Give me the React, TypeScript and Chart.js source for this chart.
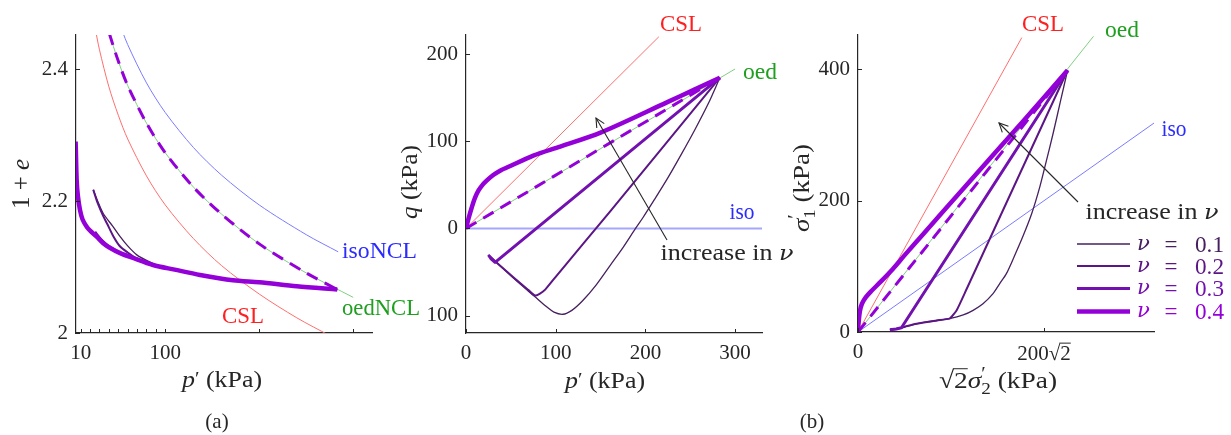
import React, { useEffect, useRef } from 'react';
import { Chart, registerables } from 'chart.js';
Chart.register(...registerables);

const W = 1231;
const H = 435;
const SERIF = '"Liberation Serif", "DejaVu Serif", serif';
const GREEK = '"DejaVu Serif", serif';
const INK = '#262626';
const RED_LINE = '#ff6e6e';
const BLUE_LINE = '#7b7bff';
const GREEN_LINE = '#80cf80';
const RED_TXT = '#ff1f1f';
const BLUE_TXT = '#2b2bff';
const GREEN_TXT = '#1f9f1f';

const NU_LABELS = ['0.1', '0.2', '0.3', '0.4'];
const NU_COLORS = ['#46205f', '#5c1585', '#7210b0', '#9400d8'];
const NU_WIDTHS = [1.3, 2, 3, 4.5];

// ---------- Panel (a): 1+e vs p' ----------
const A_X_TICKS = [10, 20, 30, 40, 50, 60, 70, 80, 90, 100, 200, 300];
const A_X_LABELS = ['10', '', '', '', '', '', '', '', '', '100', '', ''];
const A_Y_TICKS = [2, 2.2, 2.4];
const A_Y_LABELS = ['2', '2.2', '2.4'];

const A_CSL_P = [25, 30, 40, 50, 60, 80, 100, 130, 160, 200, 240, 275];
const A_CSL_V = [2.465, 2.429, 2.373, 2.33, 2.294, 2.238, 2.194, 2.143, 2.102, 2.059, 2.023, 1.996];
const A_ISO_P = [50, 60, 80, 100, 130, 160, 200, 250, 284];
const A_ISO_V = [2.474, 2.437, 2.379, 2.334, 2.281, 2.239, 2.194, 2.149, 2.123];
const A_OED_P = [35, 40, 50, 60, 80, 100, 130, 160, 200, 250, 300];
const A_OED_V = [2.483, 2.456, 2.412, 2.375, 2.318, 2.273, 2.221, 2.18, 2.135, 2.091, 2.054];
const A_LOAD_P = [35, 40, 50, 60, 80, 100, 130, 160, 200, 250, 283];
const A_LOAD_V = [2.483, 2.456, 2.412, 2.375, 2.318, 2.273, 2.221, 2.18, 2.135, 2.091, 2.066];
const A_NU1_P = [283, 240, 200, 172, 137, 115, 100, 94, 80, 70, 60, 52, 44, 34, 28, 23.4];
const A_NU1_V = [2.066, 2.071, 2.077, 2.08, 2.088, 2.094, 2.099, 2.101, 2.11, 2.118, 2.132, 2.146, 2.162, 2.181, 2.2, 2.217];
const A_NU2_P = [283, 240, 200, 172, 137, 110, 87, 70, 60, 52, 45, 38, 34, 28, 23.4];
const A_NU2_V = [2.066, 2.071, 2.077, 2.08, 2.088, 2.096, 2.103, 2.113, 2.122, 2.131, 2.146, 2.166, 2.177, 2.197, 2.217];
const A_NU3_P = [283, 240, 200, 172, 137, 110, 87, 65, 52, 40, 34, 29, 25];
const A_NU3_V = [2.066, 2.071, 2.077, 2.08, 2.088, 2.096, 2.103, 2.114, 2.121, 2.131, 2.138, 2.146, 2.153];
const A_NU4_P = [283, 240, 200, 172, 137, 110, 87, 65, 52, 40, 34, 27, 20, 16.4, 12, 9.3, 7, 5.7, 4.6];
const A_NU4_V = [2.066, 2.071, 2.077, 2.08, 2.088, 2.096, 2.103, 2.114, 2.121, 2.13, 2.136, 2.146, 2.155, 2.161, 2.172, 2.186, 2.208, 2.232, 2.29];

// ---------- Panel (b, left): q vs p' ----------
const B_X_TICKS = [0, 100, 200, 300];
const B_X_LABELS = ['0', '100', '200', '300'];
const B_Y_TICKS = [-100, 0, 100, 200];
const B_Y_LABELS = ['100', '0', '100', '200'];

const B_CSL_P = [0, 215];
const B_CSL_Q = [0, 220];
const B_OED_P = [0, 300];
const B_OED_Q = [0, 183];
const B_ISO_P = [0, 330];
const B_ISO_Q = [0, 0];
const B_LOAD_P = [0, 283];
const B_LOAD_Q = [0, 173];
const B_NU1_P = [283, 270, 255, 240, 225, 210, 197, 189, 175, 161, 145, 130, 118, 108, 98, 90, 77, 55, 34, 25];
const B_NU1_Q = [173, 143, 113, 85, 58, 33, 12, 0, -22, -42, -65, -83, -94, -98.5, -96, -90, -78.5, -59, -39, -30.5];
const B_NU2_P = [283, 161, 100, 88, 82, 77, 70, 55, 34, 25];
const B_NU2_Q = [173, 20, -55.5, -70.5, -75, -77, -71, -58, -39, -30.5];
const B_NU3_P = [283, 32.4, 28, 25];
const B_NU3_Q = [173, -39, -35, -30.5];
const B_NU4_P = [283, 254, 224.5, 150, 105, 75, 50, 38, 30, 23, 18, 13.8, 10, 6.4, 3, 0];
const B_NU4_Q = [173, 159, 145, 110, 94, 83.6, 72, 66.3, 61, 54.8, 49.5, 43.3, 35, 24, 12, 0];

// ---------- Panel (b, right): sigma1' vs sqrt2 sigma2' ----------
const C_X_TICKS = [0, 282.84];
const C_X_LABELS = ['0', ''];
const C_Y_TICKS = [0, 200, 400];
const C_Y_LABELS = ['0', '200', '400'];

const C_CSL_X = [0, 249];
const C_CSL_Y = [0, 448];
const C_OED_X = [0, 358];
const C_OED_Y = [0, 450];
const C_ISO_X = [0, 450];
const C_ISO_Y = [0, 318];
const C_LOAD_X = [0, 318.6];
const C_LOAD_Y = [0, 398.3];
const C_NU1_X = [318.6, 308, 296.5, 286, 276.3, 264, 250.9, 238, 225.6, 215, 205.3, 190, 175, 160, 139, 120, 100, 89, 75, 66, 58, 48.5];
const C_NU1_Y = [398.3, 352, 301.7, 259, 220.5, 180, 146, 116, 88.8, 73, 58.4, 43, 33, 26, 20.3, 17.5, 14.5, 12.5, 9, 6.5, 4.5, 3.6];
const C_NU2_X = [318.6, 165, 150, 143, 139, 120, 100, 89, 75, 66, 58, 48.5];
const C_NU2_Y = [398.3, 65, 33, 24, 20.3, 17.5, 14.5, 12.5, 9, 6.5, 4.5, 3.6];
const C_NU3_X = [318.6, 66, 58, 48.5];
const C_NU3_Y = [398.3, 6.5, 4.5, 3.6];
const C_NU4_X = [318.6, 252, 160, 100, 71, 53, 35, 20, 12, 6, 3, 1, 0];
const C_NU4_Y = [398.3, 322, 218, 150, 117, 96, 77, 62, 53, 43, 32, 15, 0];

const pts = (xs: number[], ys: number[]) => xs.map((x, i) => ({ x, y: ys[i] }));

function ds(xs: number[], ys: number[], color: string, width: number, order: number, tension = 0, extra: any = {}) {
  return {
    data: pts(xs, ys),
    showLine: true,
    borderColor: color,
    backgroundColor: color,
    borderWidth: width,
    pointRadius: 0,
    pointHoverRadius: 0,
    tension,
    order,
    borderJoinStyle: 'round',
    ...extra,
  };
}

const inwardTicks = {
  id: 'inwardTicks',
  afterDraw(chart: any) {
    const { ctx, chartArea: ca } = chart;
    const x = chart.scales.x;
    const y = chart.scales.y;
    ctx.save();
    ctx.strokeStyle = INK;
    ctx.lineWidth = 1;
    x.ticks.forEach((t: any) => {
      const px = Math.round(x.getPixelForValue(t.value)) + 0.5;
      ctx.beginPath();
      ctx.moveTo(px, ca.bottom);
      ctx.lineTo(px, ca.bottom - 4);
      ctx.stroke();
    });
    y.ticks.forEach((t: any) => {
      const py = Math.round(y.getPixelForValue(t.value)) + 0.5;
      ctx.beginPath();
      ctx.moveTo(ca.left, py);
      ctx.lineTo(ca.left + 4, py);
      ctx.stroke();
    });
    ctx.restore();
  },
};

function makeConfig(
  area: { l: number; r: number; t: number; b: number },
  xr: [number, number],
  yr: [number, number],
  xTicks: number[],
  xLabels: string[],
  yTicks: number[],
  yLabels: string[],
  datasets: any[],
): any {
  const tickFont = { family: SERIF, size: 21 };
  return {
    type: 'scatter',
    data: { datasets },
    options: {
      animation: false,
      responsive: false,
      maintainAspectRatio: false,
      events: [],
      layout: { padding: { left: 0, top: area.t, right: W - area.r, bottom: 0 } },
      plugins: { legend: { display: false }, tooltip: { enabled: false } },
      scales: {
        x: {
          type: 'linear',
          position: 'bottom',
          min: xr[0],
          max: xr[1],
          afterFit: (s: any) => {
            s.height = H - area.b;
          },
          afterBuildTicks: (s: any) => {
            s.ticks = xTicks.map((v) => ({ value: v }));
          },
          ticks: {
            callback: (_v: any, i: number) => xLabels[i],
            font: tickFont,
            color: INK,
            padding: 8,
            maxRotation: 0,
            autoSkip: false,
          },
          grid: { display: false, drawTicks: false },
          border: { display: true, color: INK, width: 1.2 },
        },
        y: {
          type: 'linear',
          position: 'left',
          min: yr[0],
          max: yr[1],
          afterFit: (s: any) => {
            s.width = area.l;
          },
          afterBuildTicks: (s: any) => {
            s.ticks = yTicks.map((v) => ({ value: v }));
          },
          ticks: {
            callback: (_v: any, i: number) => yLabels[i],
            font: tickFont,
            color: INK,
            padding: 8,
            autoSkip: false,
          },
          grid: { display: false, drawTicks: false },
          border: { display: true, color: INK, width: 1.2 },
        },
      },
    },
    plugins: [inwardTicks],
  };
}

type Run = { t: string; it?: boolean; dy?: number; sc?: number; adv?: boolean; over?: boolean; ff?: string };

function drawRuns(
  ctx: CanvasRenderingContext2D,
  runs: Run[],
  x: number,
  y: number,
  size: number,
  color: string,
  align: 'left' | 'center' | 'right' = 'center',
  rot = 0,
  target = 0,
) {
  ctx.save();
  ctx.fillStyle = color;
  ctx.strokeStyle = color;
  ctx.textBaseline = 'alphabetic';
  ctx.textAlign = 'left';
  const fontOf = (r: Run) => `${r.it ? 'italic ' : ''}${(size * (r.sc ?? 1)).toFixed(1)}px ${r.ff ?? SERIF}`;
  let total = 0;
  const ws = runs.map((r) => {
    ctx.font = fontOf(r);
    const w = ctx.measureText(r.t).width;
    if (r.adv !== false) total += w;
    return w;
  });
  const k = target > 0 ? target / total : 1;
  ctx.translate(x, y);
  ctx.rotate(rot);
  ctx.scale(k, 1);
  let cx = align === 'center' ? -total / 2 : align === 'right' ? -total : 0;
  const base = size * 0.33;
  runs.forEach((r, i) => {
    ctx.font = fontOf(r);
    const yy = base + (r.dy ?? 0) * size;
    ctx.fillText(r.t, cx, yy);
    if (r.over) {
      ctx.lineWidth = 1;
      ctx.beginPath();
      ctx.moveTo(cx - 1, yy - size * 0.8);
      ctx.lineTo(cx + ws[i], yy - size * 0.8);
      ctx.stroke();
    }
    if (r.adv !== false) cx += ws[i];
  });
  ctx.restore();
}

function arrow(ctx: CanvasRenderingContext2D, x0: number, y0: number, x1: number, y1: number) {
  ctx.save();
  ctx.strokeStyle = INK;
  ctx.lineWidth = 1.1;
  ctx.beginPath();
  ctx.moveTo(x0, y0);
  ctx.lineTo(x1, y1);
  ctx.stroke();
  const a = Math.atan2(y1 - y0, x1 - x0);
  const L = 10;
  const spread = 0.45;
  ctx.beginPath();
  ctx.moveTo(x1 - L * Math.cos(a - spread), y1 - L * Math.sin(a - spread));
  ctx.lineTo(x1, y1);
  ctx.lineTo(x1 - L * Math.cos(a + spread), y1 - L * Math.sin(a + spread));
  ctx.stroke();
  ctx.restore();
}

function drawOverlay(ctx: CanvasRenderingContext2D) {
  ctx.clearRect(0, 0, W, H);
  const T = 23;
  const UP = -Math.PI / 2;
  const nu: Run = { t: 'ν', it: true, ff: GREEK, sc: 0.92 };
  const pPrime: Run[] = [{ t: 'p', it: true }, { t: '′', sc: 0.8, dy: -0.1 }, { t: ' (kPa)' }];

  // Panel (a)
  drawRuns(ctx, [{ t: '1 + ' }, { t: 'e', it: true }], 21, 184, 25, INK, 'center', UP);
  drawRuns(ctx, pPrime, 222, 379, 24, INK, 'center', 0, 80);
  drawRuns(ctx, [{ t: 'isoNCL' }], 342, 250, T, BLUE_TXT, 'left', 0, 75);
  drawRuns(ctx, [{ t: 'oedNCL' }], 342, 307, T, GREEN_TXT, 'left', 0, 78);
  drawRuns(ctx, [{ t: 'CSL' }], 243, 315, T, RED_TXT, 'center', 0, 42);
  drawRuns(ctx, [{ t: '(a)' }], 217, 421, 21, INK);

  // Panel (b) left
  drawRuns(ctx, [{ t: 'q', it: true }, { t: ' (kPa)' }], 409, 182, 24, INK, 'center', UP, 74);
  drawRuns(ctx, pPrime, 605, 380, 24, INK, 'center', 0, 80);
  drawRuns(ctx, [{ t: 'CSL' }], 681, 23, T, RED_TXT, 'center', 0, 42);
  drawRuns(ctx, [{ t: 'oed' }], 760, 71, T, GREEN_TXT, 'center', 0, 34);
  drawRuns(ctx, [{ t: 'iso' }], 742, 211, T, BLUE_TXT, 'center', 0, 25);
  drawRuns(ctx, [{ t: 'increase in ' }, nu], 727, 252, T, INK, 'center', 0, 133);
  arrow(ctx, 667, 240, 596, 118);
  drawRuns(ctx, [{ t: '(b)' }], 812, 421, 21, INK);

  // Panel (b) right
  drawRuns(
    ctx,
    [{ t: 'σ', it: true }, { t: '′', sc: 0.75, dy: -0.32, adv: false }, { t: '1', sc: 0.7, dy: 0.25 }, { t: ' (kPa)' }],
    801,
    188,
    24,
    INK,
    'center',
    UP,
    88,
  );
  drawRuns(
    ctx,
    [
      { t: '√' },
      { t: '2', over: true },
      { t: 'σ', it: true },
      { t: '′', sc: 0.75, dy: -0.32, adv: false },
      { t: '2', sc: 0.7, dy: 0.25 },
      { t: ' (kPa)' },
    ],
    998,
    380,
    24,
    INK,
    'center',
    0,
    118,
  );
  drawRuns(ctx, [{ t: '200' }, { t: '√' }, { t: '2', over: true }], 1044, 353, 21, INK);
  drawRuns(ctx, [{ t: 'CSL' }], 1043, 23, T, RED_TXT, 'center', 0, 42);
  drawRuns(ctx, [{ t: 'oed' }], 1122, 29, T, GREEN_TXT, 'center', 0, 34);
  drawRuns(ctx, [{ t: 'iso' }], 1174, 128, T, BLUE_TXT, 'center', 0, 25);
  drawRuns(ctx, [{ t: 'increase in ' }, nu], 1152, 211, T, INK, 'center', 0, 133);
  arrow(ctx, 1078, 202, 999, 123);

  // legend
  const ly = [244, 266, 288.5, 311.5];
  NU_LABELS.forEach((lab, i) => {
    ctx.save();
    ctx.strokeStyle = NU_COLORS[i];
    ctx.lineWidth = NU_WIDTHS[i];
    ctx.beginPath();
    ctx.moveTo(1077, ly[i]);
    ctx.lineTo(1130, ly[i]);
    ctx.stroke();
    ctx.restore();
    drawRuns(ctx, [nu], 1137, ly[i] - 2, T, NU_COLORS[i], 'left');
    drawRuns(ctx, [{ t: '=' }], 1171, ly[i], T, NU_COLORS[i]);
    drawRuns(ctx, [{ t: lab }], 1195, ly[i], T, NU_COLORS[i], 'left', 0, 29);
  });
}

export default function App() {
  const aRef = useRef<HTMLCanvasElement>(null);
  const bRef = useRef<HTMLCanvasElement>(null);
  const cRef = useRef<HTMLCanvasElement>(null);
  const oRef = useRef<HTMLCanvasElement>(null);

  useEffect(() => {
    const dash = { borderDash: [12, 8] };
    const cfgA = makeConfig(
      { l: 76, r: 372, t: 35, b: 333 },
      [5, 320],
      [2, 2.4515],
      A_X_TICKS,
      A_X_LABELS,
      A_Y_TICKS,
      A_Y_LABELS,
      [
        ds(A_CSL_P, A_CSL_V, RED_LINE, 1, 10, 0.3),
        ds(A_ISO_P, A_ISO_V, BLUE_LINE, 1, 10, 0.3),
        ds(A_OED_P, A_OED_V, GREEN_LINE, 1, 9, 0.3),
        ds(A_NU1_P, A_NU1_V, NU_COLORS[0], NU_WIDTHS[0], 5, 0.3),
        ds(A_NU2_P, A_NU2_V, NU_COLORS[1], NU_WIDTHS[1], 4, 0.3),
        ds(A_NU3_P, A_NU3_V, NU_COLORS[2], NU_WIDTHS[2], 3, 0.3),
        ds(A_NU4_P, A_NU4_V, NU_COLORS[3], NU_WIDTHS[3], 2, 0.3),
        ds(A_LOAD_P, A_LOAD_V, NU_COLORS[3], 3, 1, 0.3, dash),
      ],
    );
    const cfgB = makeConfig(
      { l: 466, r: 762, t: 35, b: 333 },
      [0, 330],
      [-120, 222],
      B_X_TICKS,
      B_X_LABELS,
      B_Y_TICKS,
      B_Y_LABELS,
      [
        ds(B_CSL_P, B_CSL_Q, RED_LINE, 1, 10),
        ds(B_ISO_P, B_ISO_Q, '#a6a6ff', 2, 10),
        ds(B_OED_P, B_OED_Q, GREEN_LINE, 1, 9),
        ds(B_NU1_P, B_NU1_Q, NU_COLORS[0], NU_WIDTHS[0], 5, 0.3),
        ds(B_NU2_P, B_NU2_Q, NU_COLORS[1], NU_WIDTHS[1], 4, 0.2),
        ds(B_NU3_P, B_NU3_Q, NU_COLORS[2], NU_WIDTHS[2], 3, 0),
        ds(B_NU4_P, B_NU4_Q, NU_COLORS[3], NU_WIDTHS[3], 2, 0.3),
        ds(B_LOAD_P, B_LOAD_Q, NU_COLORS[3], 3, 1, 0, dash),
      ],
    );
    const cfgC = makeConfig(
      { l: 858, r: 1154, t: 35, b: 332 },
      [0, 450],
      [0, 452],
      C_X_TICKS,
      C_X_LABELS,
      C_Y_TICKS,
      C_Y_LABELS,
      [
        ds(C_CSL_X, C_CSL_Y, RED_LINE, 1, 10),
        ds(C_ISO_X, C_ISO_Y, BLUE_LINE, 1, 10),
        ds(C_OED_X, C_OED_Y, GREEN_LINE, 1, 9),
        ds(C_NU1_X, C_NU1_Y, NU_COLORS[0], NU_WIDTHS[0], 5, 0.3),
        ds(C_NU2_X, C_NU2_Y, NU_COLORS[1], NU_WIDTHS[1], 4, 0.2),
        ds(C_NU3_X, C_NU3_Y, NU_COLORS[2], NU_WIDTHS[2], 3, 0),
        ds(C_NU4_X, C_NU4_Y, NU_COLORS[3], NU_WIDTHS[3], 2, 0.3),
        ds(C_LOAD_X, C_LOAD_Y, NU_COLORS[3], 3, 1, 0, dash),
      ],
    );
    const charts = [
      new Chart(aRef.current as HTMLCanvasElement, cfgA),
      new Chart(bRef.current as HTMLCanvasElement, cfgB),
      new Chart(cRef.current as HTMLCanvasElement, cfgC),
    ];
    const octx = (oRef.current as HTMLCanvasElement).getContext('2d');
    if (octx) drawOverlay(octx);
    return () => charts.forEach((c) => c.destroy());
  }, []);

  const st: React.CSSProperties = { position: 'absolute', left: 0, top: 0, width: W, height: H };
  return (
    <div style={{ position: 'fixed', left: 0, top: 0, width: W, height: H, background: '#fff', overflow: 'hidden' }}>
      <canvas ref={aRef} width={W} height={H} style={st} />
      <canvas ref={bRef} width={W} height={H} style={st} />
      <canvas ref={cRef} width={W} height={H} style={st} />
      <canvas ref={oRef} width={W} height={H} style={st} />
    </div>
  );
}
